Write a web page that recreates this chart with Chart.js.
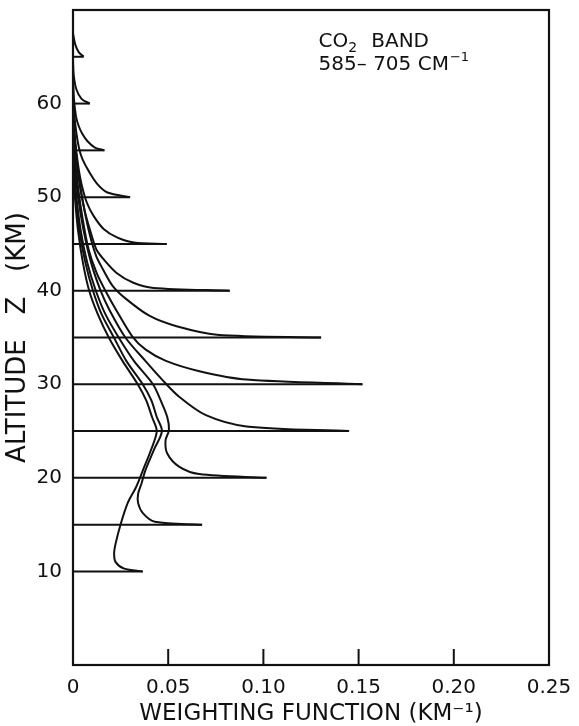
<!DOCTYPE html>
<html>
<head>
<meta charset="utf-8">
<title>CO2 band weighting functions</title>
<script src="https://cdn.jsdelivr.net/npm/chart.js@4.4.1/dist/chart.umd.min.js"></script>
<style>
  html, body { margin: 0; padding: 0; background: #fff; }
  #wrap { width: 579px; height: 726px; }
</style>
</head>
<body>
<div id="wrap"><canvas id="wf-chart" width="579" height="726"></canvas></div>
<script>
// Reference levels (km) and the peak value of each weighting function at its level (km^-1)
const levels = [10, 15, 20, 25, 30, 35, 40, 45, 50, 55, 60, 65];
const peakValues = [0.0366, 0.0678, 0.1016, 0.145, 0.152, 0.1303, 0.0823, 0.0492, 0.030, 0.0165, 0.0088, 0.0056];

// Curve above each peak: [weighting, altitude]
const wf10 = [[0.0269, 10.3], [0.0224, 11], [0.0216, 11.9], [0.0224, 13], [0.0251, 15.1], [0.0287, 17.3], [0.0331, 19], [0.0367, 20.8], [0.041, 23], [0.044, 25], [0.0415, 26.5], [0.0384, 28.3], [0.034, 30], [0.026, 32.5], [0.0188, 35], [0.013, 37.5], [0.0085, 40], [0.0052, 43], [0.0026, 46.5], [0.001, 50], [0, 53]];
const wf15 = [[0.043, 15.3], [0.0368, 16.2], [0.0342, 17.3], [0.0342, 18.3], [0.036, 19.4], [0.038, 20.8], [0.0425, 23], [0.0467, 25], [0.044, 26.5], [0.0411, 28.3], [0.0366, 30], [0.028, 32.5], [0.0215, 35], [0.015, 37.5], [0.0105, 40], [0.0065, 43], [0.0033, 46.5], [0.0014, 50], [0.0004, 53], [0, 55]];
const wf20 = [[0.0663, 20.4], [0.0557, 21.2], [0.0495, 22.6], [0.0486, 24], [0.0504, 25.1], [0.0495, 26.5], [0.046, 28.3], [0.042, 30], [0.032, 32.5], [0.024, 35], [0.017, 37.5], [0.012, 40], [0.0075, 43], [0.004, 46.5], [0.0018, 50], [0.0006, 53], [0, 56]];
const wf25 = [[0.0911, 25.5], [0.0698, 26.7], [0.0556, 28.7], [0.0468, 30.5], [0.038, 32.5], [0.0275, 35], [0.019, 38], [0.0145, 40], [0.0095, 43], [0.0055, 46.5], [0.0027, 50], [0.001, 53.5], [0, 57]];
const wf30 = [[0.0912, 30.5], [0.0664, 31.4], [0.0488, 32.5], [0.0382, 33.7], [0.0312, 35.1], [0.0225, 38], [0.0175, 39.8], [0.0124, 41.9], [0.0082, 44.4], [0.0052, 47.5], [0.0027, 51], [0.0008, 55], [0, 58]];
const wf35 = [[0.0756, 35.3], [0.0544, 36.2], [0.0403, 37.3], [0.028, 39.1], [0.0209, 40.5], [0.0157, 42.3], [0.0122, 43.7], [0.0088, 46], [0.0052, 49.5], [0.0026, 53], [0.0008, 56.5], [0, 60]];
const wf40 = [[0.0423, 40.3], [0.0317, 40.85], [0.0229, 41.9], [0.0159, 43.4], [0.0123, 44.4], [0.0092, 46.3], [0.0062, 48.5], [0.0038, 51], [0.0018, 54], [0.0006, 57], [0, 60]];
const wf45 = [[0.032, 45.15], [0.0231, 45.7], [0.0161, 46.6], [0.0108, 48], [0.0073, 49.4], [0.0047, 51.2], [0.003, 53], [0.0017, 55], [0.0007, 57], [0, 59]];
const wf50 = [[0.0181, 50.5], [0.0128, 51.4], [0.0085, 52.7], [0.0049, 54.1], [0.0032, 55.2], [0.0018, 56.8], [0.0007, 58.8], [0, 61]];
const wf55 = [[0.0115, 55.3], [0.0075, 56], [0.0048, 56.8], [0.003, 57.6], [0.0016, 58.6], [0.0005, 60.5], [0, 63]];
const wf60 = [[0.0045, 60.5], [0.0018, 61.5], [0.0004, 63], [0, 64.5]];
const wf65 = [[0.003, 65.5], [0.0012, 66.3], [0, 67.5]];
const curves = [wf10, wf15, wf20, wf25, wf30, wf35, wf40, wf45, wf50, wf55, wf60, wf65];

// Axis ticks
const xTickValues = [0, 0.05, 0.10, 0.15, 0.20, 0.25];
const xTickLabels = ['0', '0.05', '0.10', '0.15', '0.20', '0.25'];
const yTickValues = [10, 20, 30, 40, 50, 60];
const yTickLabels = ['10', '20', '30', '40', '50', '60'];

const INK = '#111';
const FONT = "'DejaVu Sans', sans-serif";

// Build datasets: horizontal line from 0 to the peak, then the curve above it
const datasets = [];
levels.forEach((z, i) => {
    datasets.push({
        data: [{ x: 0, y: z }, { x: peakValues[i], y: z }],
        borderColor: INK, borderWidth: 2, pointRadius: 0, tension: 0, clip: false
    });
    datasets.push({
        data: [[peakValues[i], z]].concat(curves[i]).map(p => ({ x: p[0], y: p[1] })),
        borderColor: INK, borderWidth: 2, pointRadius: 0, tension: 0.3, clip: false
    });
});

// Frame, inward x ticks and the band note
const framePlugin = {
    id: 'frame',
    afterDraw(chart) {
        const { ctx, chartArea: a, scales } = chart;
        ctx.save();
        ctx.strokeStyle = INK;
        ctx.lineWidth = 2.2;
        ctx.strokeRect(a.left, a.top, a.right - a.left, a.bottom - a.top);
        ctx.lineWidth = 2;
        xTickValues.slice(1, -1).forEach(v => {
            const px = scales.x.getPixelForValue(v);
            ctx.beginPath();
            ctx.moveTo(px, a.bottom);
            ctx.lineTo(px, a.bottom - 16);
            ctx.stroke();
        });

        // "CO2 BAND / 585-705 CM-1"
        ctx.fillStyle = INK;
        ctx.textBaseline = 'alphabetic';
        const nx = scales.x.getPixelForValue(0.129);
        const ny1 = scales.y.getPixelForValue(66.05);
        const ny2 = scales.y.getPixelForValue(63.6);
        ctx.font = '20px ' + FONT;
        ctx.fillText('CO', nx, ny1);
        let w = ctx.measureText('CO').width;
        ctx.font = '14px ' + FONT;
        ctx.fillText('2', nx + w, ny1 + 5);
        w += ctx.measureText('2').width + 14;
        ctx.font = '20px ' + FONT;
        ctx.fillText('BAND', nx + w, ny1);
        ctx.fillText('585\u2013 705 CM', nx, ny2);
        w = ctx.measureText('585\u2013 705 CM').width;
        ctx.font = '13px ' + FONT;
        ctx.fillText('\u2212\u0031', nx + w + 1, ny2 - 9);
        ctx.restore();
    }
};

const chart = new Chart(document.getElementById('wf-chart'), {
    type: 'scatter',
    data: { datasets },
    options: {
        responsive: false,
        animation: false,
        devicePixelRatio: 1,
        showLine: true,
        layout: { padding: { left: 0, right: 30, top: 10, bottom: 0 } },
        plugins: { legend: { display: false }, tooltip: { enabled: false } },
        scales: {
            x: {
                type: 'linear', min: 0, max: 0.25,
                afterBuildTicks: axis => { axis.ticks = xTickValues.map(v => ({ value: v })); },
                afterFit: axis => { axis.height = 61; axis.paddingLeft = 0; axis.paddingRight = 0; },
                grid: { display: false, drawTicks: false },
                border: { display: false },
                ticks: {
                    color: INK, padding: 13, maxRotation: 0, autoSkip: false,
                    font: { family: FONT, size: 20, lineHeight: 1 },
                    callback: (v, i) => xTickLabels[i]
                },
                title: {
                    display: true, text: 'WEIGHTING FUNCTION (KM\u207B\u00B9)', color: INK,
                    font: { family: FONT, size: 23, lineHeight: 1 },
                    padding: { top: 0, bottom: 0 }
                }
            },
            y: {
                type: 'linear', min: 0, max: 70,
                afterBuildTicks: axis => { axis.ticks = yTickValues.map(v => ({ value: v })); },
                afterFit: axis => { axis.width = 73; axis.paddingTop = 0; axis.paddingBottom = 0; },
                grid: { display: false, drawTicks: false },
                border: { display: false },
                ticks: {
                    color: INK, padding: 11, autoSkip: false,
                    font: { family: FONT, size: 20, lineHeight: 1 },
                    callback: (v, i) => yTickLabels[i]
                },
                title: {
                    display: true, text: 'ALTITUDE   Z   (KM)', color: INK,
                    font: { family: FONT, size: 26, lineHeight: 1 },
                    padding: { top: 5, bottom: 0 }
                }
            }
        }
    },
    plugins: [framePlugin]
});
</script>
</body>
</html>
